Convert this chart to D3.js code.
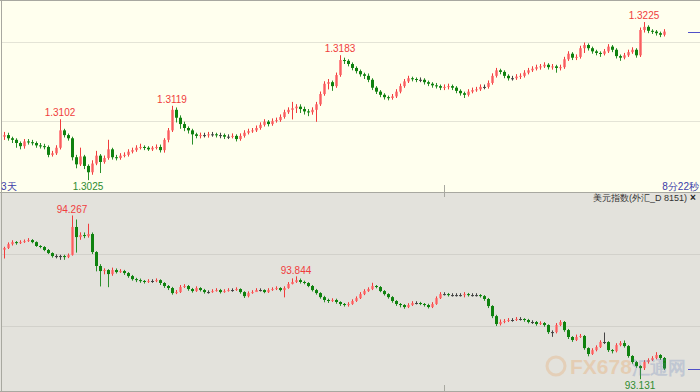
<!DOCTYPE html>
<meta charset="utf-8">
<script src="https://d3js.org/d3.v7.min.js"></script>
<style>
    body { margin: 0; overflow: hidden; background: #fff; }
    text { font-family: "Liberation Sans", Arial, sans-serif; }
</style>
<div id="chart"></div>

<script>

    // top panel: daily candles
    const eurOpen = [
        1.3080,1.3082,1.3078,1.3076,1.3072,1.3068,1.3074,1.3073,1.3072,1.3069,
        1.3068,1.3067,1.3057,1.3059,1.3066,1.3088,1.3082,1.3078,1.3054,1.3045,
        1.3055,1.3043,1.3035,1.3046,1.3056,1.3048,1.3053,1.3064,1.3054,1.3053,
        1.3056,1.3057,1.3061,1.3063,1.3066,1.3067,1.3066,1.3064,1.3066,1.3067,
        1.3063,1.3076,1.3088,1.3114,1.3104,1.3096,1.3091,1.3088,1.3083,1.3081,
        1.3082,1.3082,1.3083,1.3083,1.3082,1.3082,1.3080,1.3080,1.3081,1.3077,
        1.3081,1.3085,1.3087,1.3088,1.3091,1.3095,1.3099,1.3096,1.3100,1.3101,
        1.3105,1.3111,1.3114,1.3116,1.3118,1.3115,1.3112,1.3111,1.3114,1.3121,
        1.3134,1.3147,1.3149,1.3144,1.3158,1.3177,1.3176,1.3172,1.3167,1.3163,
        1.3159,1.3157,1.3152,1.3142,1.3137,1.3133,1.3130,1.3129,1.3131,1.3137,
        1.3144,1.3150,1.3154,1.3153,1.3152,1.3152,1.3149,1.3147,1.3145,1.3144,
        1.3142,1.3143,1.3144,1.3142,1.3138,1.3135,1.3133,1.3137,1.3139,1.3140,
        1.3143,1.3143,1.3148,1.3157,1.3164,1.3162,1.3157,1.3154,1.3154,1.3156,
        1.3157,1.3161,1.3164,1.3166,1.3168,1.3169,1.3171,1.3168,1.3169,1.3167,
        1.3168,1.3178,1.3185,1.3180,1.3181,1.3192,1.3196,1.3192,1.3188,1.3186,
        1.3185,1.3188,1.3194,1.3190,1.3182,1.3180,1.3183,1.3187,1.3190,1.3183,
        1.3215,1.3219,1.3214,1.3213,1.3211,1.3209
    ];
    const eurClose = [
        1.3082,1.3078,1.3076,1.3072,1.3068,1.3074,1.3073,1.3072,1.3069,1.3068,
        1.3067,1.3057,1.3059,1.3066,1.3088,1.3082,1.3078,1.3054,1.3045,1.3055,
        1.3043,1.3035,1.3046,1.3056,1.3048,1.3053,1.3064,1.3054,1.3053,1.3056,
        1.3057,1.3061,1.3063,1.3066,1.3067,1.3066,1.3064,1.3066,1.3067,1.3063,
        1.3076,1.3088,1.3114,1.3104,1.3096,1.3091,1.3088,1.3083,1.3081,1.3082,
        1.3082,1.3083,1.3083,1.3082,1.3082,1.3080,1.3080,1.3081,1.3077,1.3081,
        1.3085,1.3087,1.3088,1.3091,1.3095,1.3099,1.3096,1.3100,1.3101,1.3105,
        1.3111,1.3114,1.3116,1.3118,1.3115,1.3112,1.3111,1.3114,1.3121,1.3134,
        1.3147,1.3149,1.3144,1.3158,1.3177,1.3176,1.3172,1.3167,1.3163,1.3159,
        1.3157,1.3152,1.3142,1.3137,1.3133,1.3130,1.3129,1.3131,1.3137,1.3144,
        1.3150,1.3154,1.3153,1.3152,1.3152,1.3149,1.3147,1.3145,1.3144,1.3142,
        1.3143,1.3144,1.3142,1.3138,1.3135,1.3133,1.3137,1.3139,1.3140,1.3143,
        1.3143,1.3148,1.3157,1.3164,1.3162,1.3157,1.3154,1.3154,1.3156,1.3157,
        1.3161,1.3164,1.3166,1.3168,1.3169,1.3171,1.3168,1.3169,1.3167,1.3168,
        1.3178,1.3185,1.3180,1.3181,1.3192,1.3196,1.3192,1.3188,1.3186,1.3185,
        1.3188,1.3194,1.3190,1.3182,1.3180,1.3183,1.3187,1.3190,1.3183,1.3215,
        1.3219,1.3214,1.3213,1.3211,1.3209,1.3213
    ];
    const eurHigh = [
        1.3086,1.3085,1.3080,1.3078,1.3074,1.3077,1.3077,1.3076,1.3074,1.3072,
        1.3071,1.3069,1.3062,1.3069,1.3102,1.3090,1.3084,1.3080,1.3057,1.3066,
        1.3057,1.3045,1.3050,1.3062,1.3058,1.3056,1.3076,1.3066,1.3057,1.3059,
        1.3060,1.3064,1.3066,1.3069,1.3071,1.3069,1.3068,1.3068,1.3070,1.3070,
        1.3078,1.3091,1.3119,1.3117,1.3107,1.3099,1.3093,1.3090,1.3085,1.3085,
        1.3085,1.3086,1.3086,1.3085,1.3085,1.3084,1.3083,1.3084,1.3083,1.3084,
        1.3088,1.3090,1.3091,1.3094,1.3098,1.3102,1.3101,1.3103,1.3104,1.3108,
        1.3114,1.3117,1.3124,1.3121,1.3121,1.3118,1.3115,1.3117,1.3124,1.3137,
        1.3150,1.3153,1.3151,1.3161,1.3183,1.3180,1.3178,1.3174,1.3169,1.3165,
        1.3161,1.3160,1.3154,1.3144,1.3139,1.3135,1.3132,1.3134,1.3140,1.3147,
        1.3153,1.3157,1.3156,1.3155,1.3155,1.3154,1.3151,1.3149,1.3148,1.3146,
        1.3146,1.3147,1.3146,1.3144,1.3140,1.3137,1.3140,1.3142,1.3143,1.3146,
        1.3146,1.3151,1.3160,1.3167,1.3166,1.3164,1.3159,1.3157,1.3159,1.3160,
        1.3164,1.3167,1.3169,1.3171,1.3172,1.3174,1.3173,1.3172,1.3171,1.3171,
        1.3181,1.3188,1.3187,1.3184,1.3195,1.3199,1.3198,1.3194,1.3190,1.3188,
        1.3191,1.3197,1.3196,1.3192,1.3184,1.3186,1.3190,1.3193,1.3192,1.3218,
        1.3225,1.3221,1.3216,1.3215,1.3213,1.3216
    ];
    const eurLow = [
        1.3076,1.3075,1.3072,1.3066,1.3064,1.3065,1.3070,1.3069,1.3066,1.3065,
        1.3064,1.3054,1.3055,1.3057,1.3064,1.3079,1.3075,1.3050,1.3040,1.3043,
        1.3039,1.3025,1.3032,1.3044,1.3034,1.3046,1.3051,1.3051,1.3050,1.3051,
        1.3054,1.3055,1.3059,1.3061,1.3064,1.3063,1.3062,1.3062,1.3064,1.3060,
        1.3060,1.3073,1.3086,1.3098,1.3090,1.3087,1.3084,1.3070,1.3078,1.3078,
        1.3079,1.3079,1.3080,1.3079,1.3078,1.3077,1.3077,1.3078,1.3074,1.3075,
        1.3079,1.3083,1.3085,1.3086,1.3089,1.3093,1.3093,1.3094,1.3098,1.3099,
        1.3103,1.3109,1.3102,1.3110,1.3110,1.3108,1.3106,1.3108,1.3099,1.3119,
        1.3132,1.3140,1.3138,1.3142,1.3156,1.3172,1.3169,1.3164,1.3160,1.3156,
        1.3153,1.3149,1.3139,1.3134,1.3130,1.3127,1.3126,1.3127,1.3129,1.3135,
        1.3142,1.3148,1.3150,1.3149,1.3149,1.3146,1.3144,1.3142,1.3141,1.3139,
        1.3139,1.3140,1.3139,1.3135,1.3132,1.3129,1.3131,1.3135,1.3137,1.3138,
        1.3140,1.3141,1.3146,1.3155,1.3159,1.3154,1.3151,1.3151,1.3152,1.3153,
        1.3155,1.3159,1.3162,1.3164,1.3165,1.3167,1.3165,1.3165,1.3161,1.3164,
        1.3166,1.3176,1.3177,1.3177,1.3179,1.3186,1.3189,1.3185,1.3183,1.3181,
        1.3183,1.3186,1.3187,1.3179,1.3176,1.3178,1.3181,1.3185,1.3180,1.3181,
        1.3212,1.3211,1.3210,1.3208,1.3206,1.3207
    ];
    const eurPeaks = [14, 42, 84, 160];
    const eurTroughs = [21];
    const eurGrid = [1.31, 1.32];

    // bottom panel: 美元指数
    const usdOpen = [
        94.030,94.042,94.069,94.083,94.076,94.083,94.090,94.097,94.083,94.056,
        94.049,94.028,94.007,93.986,93.986,93.986,93.979,93.993,94.188,94.118,
        94.132,94.125,94.139,94.014,93.917,93.882,93.889,93.861,93.889,93.875,
        93.882,93.868,93.847,93.826,93.819,93.813,93.806,93.813,93.813,93.819,
        93.799,93.778,93.764,93.729,93.736,93.771,93.778,93.757,93.743,93.764,
        93.750,93.736,93.736,93.743,93.750,93.736,93.743,93.750,93.750,93.757,
        93.736,93.708,93.729,93.736,93.750,93.750,93.736,93.750,93.757,93.764,
        93.750,93.764,93.792,93.806,93.819,93.806,93.799,93.778,93.750,93.729,
        93.701,93.681,93.674,93.681,93.667,93.653,93.646,93.653,93.674,93.694,
        93.722,93.743,93.757,93.778,93.771,93.743,93.722,93.701,93.674,93.653,
        93.646,93.632,93.646,93.660,93.660,93.653,93.646,93.632,93.653,93.694,
        93.722,93.722,93.715,93.715,93.715,93.715,93.722,93.715,93.715,93.715,
        93.708,93.688,93.639,93.569,93.514,93.528,93.535,93.542,93.542,93.549,
        93.549,93.542,93.528,93.528,93.514,93.521,93.507,93.458,93.458,93.507,
        93.528,93.472,93.424,93.403,93.424,93.431,93.347,93.306,93.333,93.354,
        93.389,93.389,93.333,93.326,93.368,93.382,93.361,93.292,93.250,93.222,
        93.208,93.250,93.264,93.278,93.299,93.278
    ];
    const usdClose = [
        94.042,94.069,94.083,94.076,94.083,94.090,94.097,94.083,94.056,94.049,
        94.028,94.007,93.986,93.986,93.986,93.979,93.993,94.188,94.118,94.132,
        94.125,94.139,94.014,93.917,93.882,93.889,93.861,93.889,93.875,93.882,
        93.868,93.847,93.826,93.819,93.813,93.806,93.813,93.813,93.819,93.799,
        93.778,93.764,93.729,93.736,93.771,93.778,93.757,93.743,93.764,93.750,
        93.736,93.736,93.743,93.750,93.736,93.743,93.750,93.750,93.757,93.736,
        93.708,93.729,93.736,93.750,93.750,93.736,93.750,93.757,93.764,93.750,
        93.764,93.792,93.806,93.819,93.806,93.799,93.778,93.750,93.729,93.701,
        93.681,93.674,93.681,93.667,93.653,93.646,93.653,93.674,93.694,93.722,
        93.743,93.757,93.778,93.771,93.743,93.722,93.701,93.674,93.653,93.646,
        93.632,93.646,93.660,93.660,93.653,93.646,93.632,93.653,93.694,93.722,
        93.722,93.715,93.715,93.715,93.715,93.722,93.715,93.715,93.715,93.708,
        93.688,93.639,93.569,93.514,93.528,93.535,93.542,93.542,93.549,93.549,
        93.542,93.528,93.528,93.514,93.521,93.507,93.458,93.458,93.507,93.528,
        93.472,93.424,93.403,93.424,93.431,93.347,93.306,93.333,93.354,93.389,
        93.389,93.333,93.326,93.368,93.382,93.361,93.292,93.250,93.222,93.208,
        93.250,93.264,93.278,93.299,93.278,93.205
    ];
    const usdHigh = [
        94.050,94.080,94.095,94.090,94.095,94.100,94.110,94.104,94.088,94.062,
        94.055,94.035,94.012,93.998,93.995,93.995,94.003,94.267,94.240,94.150,
        94.150,94.210,94.150,94.020,93.930,93.900,93.895,93.905,93.900,93.895,
        93.890,93.875,93.855,93.835,93.830,93.820,93.825,93.825,93.830,93.825,
        93.805,93.785,93.772,93.750,93.785,93.790,93.785,93.765,93.775,93.770,
        93.758,93.748,93.755,93.762,93.758,93.755,93.762,93.762,93.768,93.762,
        93.742,93.740,93.748,93.762,93.762,93.755,93.762,93.768,93.775,93.770,
        93.775,93.805,93.830,93.844,93.830,93.815,93.805,93.785,93.758,93.735,
        93.710,93.690,93.692,93.690,93.672,93.660,93.665,93.685,93.705,93.735,
        93.755,93.768,93.800,93.785,93.778,93.750,93.728,93.708,93.680,93.660,
        93.652,93.658,93.672,93.672,93.668,93.660,93.655,93.665,93.705,93.735,
        93.735,93.730,93.728,93.728,93.728,93.735,93.730,93.728,93.728,93.722,
        93.715,93.695,93.645,93.578,93.545,93.548,93.555,93.555,93.562,93.562,
        93.555,93.550,93.540,93.535,93.532,93.528,93.512,93.470,93.520,93.540,
        93.535,93.480,93.430,93.440,93.445,93.438,93.352,93.345,93.365,93.400,
        93.455,93.395,93.340,93.380,93.395,93.400,93.368,93.298,93.258,93.228,
        93.262,93.275,93.290,93.318,93.305,93.285
    ];
    const usdLow = [
        93.970,94.035,94.060,94.065,94.070,94.078,94.085,94.075,94.050,94.040,
        94.020,94.000,93.975,93.970,93.960,93.960,93.972,93.990,94.010,94.100,
        94.110,94.115,94.000,93.880,93.775,93.860,93.770,93.850,93.865,93.870,
        93.855,93.835,93.815,93.805,93.800,93.795,93.800,93.800,93.805,93.785,
        93.765,93.750,93.718,93.722,93.730,93.765,93.745,93.732,93.738,93.740,
        93.725,93.725,93.732,93.740,93.726,93.732,93.740,93.738,93.745,93.725,
        93.695,93.700,93.725,93.740,93.740,93.728,93.730,93.745,93.750,93.740,
        93.700,93.760,93.790,93.800,93.795,93.790,93.770,93.740,93.718,93.690,
        93.665,93.660,93.668,93.655,93.640,93.635,93.636,93.648,93.668,93.688,
        93.715,93.738,93.750,93.762,93.735,93.712,93.690,93.662,93.640,93.630,
        93.620,93.625,93.640,93.650,93.645,93.635,93.622,93.625,93.648,93.688,
        93.712,93.705,93.705,93.705,93.705,93.700,93.705,93.705,93.705,93.698,
        93.675,93.625,93.555,93.500,93.505,93.520,93.528,93.530,93.535,93.538,
        93.530,93.518,93.515,93.502,93.508,93.495,93.445,93.425,93.450,93.500,
        93.460,93.410,93.390,93.396,93.418,93.335,93.290,93.300,93.325,93.348,
        93.375,93.320,93.310,93.318,93.360,93.350,93.280,93.238,93.210,93.131,
        93.195,93.240,93.258,93.270,93.265,93.195
    ];
    const usdPeaks = [17, 73];
    const usdTroughs = [159];
    const usdGrid = [93.5, 94.0];

    const width = 700, height = 392;
    const upColor = "#ff8a8a", upWick = "#f03c3c";
    const downColor = "#0f820f", downWick = "#2a8f2a";
    const flatColor = "#444";

    const svg = d3.select("#chart")
        .append("svg")
        .attr("width", width)
        .attr("height", height);

    const n = eurClose.length;
    const x = d3.scaleLinear()
        .domain([0, n - 1])
        .range([4, 664]);

    function drawPanel(cfg) {
        const g = svg.append("g");
        const y = d3.scaleLinear()
            .domain(cfg.domain)
            .range([cfg.bottom, cfg.top]);

        g.append("rect")
            .attr("x", 0).attr("y", cfg.top)
            .attr("width", width).attr("height", cfg.bottom - cfg.top)
            .attr("fill", cfg.bg);

        g.selectAll(".grid")
            .data(cfg.grid)
            .join("line")
            .attr("x1", 2).attr("x2", width)
            .attr("y1", d => Math.round(y(d)) + 0.5)
            .attr("y2", d => Math.round(y(d)) + 0.5)
            .attr("stroke", cfg.gridColor);

        const data = cfg.close.map((c, i) => ({
            i, o: cfg.open[i], h: cfg.high[i], l: cfg.low[i], c
        }));
        const colorOf = d => d.c > d.o ? upColor : (d.c < d.o ? downColor : flatColor);
        const wickOf = d => d.c > d.o ? upWick : (d.c < d.o ? downWick : flatColor);

        const candle = g.append("g")
            .selectAll("g")
            .data(data)
            .join("g");

        candle.append("line")
            .attr("x1", d => Math.round(x(d.i)) + 0.5)
            .attr("x2", d => Math.round(x(d.i)) + 0.5)
            .attr("y1", d => y(d.h))
            .attr("y2", d => y(d.l))
            .attr("stroke", wickOf);

        candle.append("rect")
            .attr("x", d => Math.round(x(d.i)) - 1)
            .attr("width", 3)
            .attr("y", d => y(Math.max(d.o, d.c)))
            .attr("height", d => Math.max(1, Math.abs(y(d.o) - y(d.c))))
            .attr("fill", colorOf);

        // wick drawn again over the red bodies, like the original
        candle.filter(d => d.c > d.o)
            .append("line")
            .attr("x1", d => Math.round(x(d.i)) + 0.5)
            .attr("x2", d => Math.round(x(d.i)) + 0.5)
            .attr("y1", d => y(d.h))
            .attr("y2", d => y(d.l))
            .attr("stroke", upWick)
            .attr("stroke-opacity", 0.55);

        // high / low marks
        g.selectAll(".peak")
            .data(cfg.peaks)
            .join("text")
            .attr("x", i => x(i))
            .attr("y", i => y(cfg.high[i]) - 3)
            .attr("text-anchor", "middle")
            .attr("font-size", 10)
            .attr("fill", "#f03c3c")
            .text(i => cfg.high[i].toFixed(cfg.digits));

        g.selectAll(".trough")
            .data(cfg.troughs)
            .join("text")
            .attr("x", i => x(i))
            .attr("y", i => y(cfg.low[i]) + 10)
            .attr("text-anchor", "middle")
            .attr("font-size", 10)
            .attr("fill", "#2e8b2e")
            .text(i => cfg.low[i].toFixed(cfg.digits));

        // last price marker
        const last = cfg.close[cfg.close.length - 1];
        g.append("line")
            .attr("x1", 688).attr("x2", width)
            .attr("y1", Math.round(y(last)) + 0.5)
            .attr("y2", Math.round(y(last)) + 0.5)
            .attr("stroke", "#5050c8");

        return g;
    }

    // faint watermark (drawn under the bottom candles)
    function watermark() {
        const wm = svg.append("g").attr("opacity", 0.25);
        wm.append("circle")
            .attr("cx", 556).attr("cy", 366).attr("r", 9)
            .attr("fill", "none").attr("stroke", "#e89a50").attr("stroke-width", 3);
        wm.append("text")
            .attr("x", 570).attr("y", 374)
            .attr("font-size", 21).attr("font-weight", "bold")
            .attr("fill", "#e8903c")
            .text("FX678");
        wm.append("text")
            .attr("x", 632).attr("y", 374)
            .attr("font-size", 18).attr("font-weight", "bold")
            .attr("font-family", "'Noto Sans CJK SC', sans-serif")
            .attr("fill", "#5a78b8")
            .text("汇通网");
    }

    const topPanel = drawPanel({
        top: 0, bottom: 192, domain: [1.3010, 1.3253],
        bg: "#ffffee", gridColor: "#e4e4d6",
        open: eurOpen, high: eurHigh, low: eurLow, close: eurClose,
        peaks: eurPeaks, troughs: eurTroughs, grid: eurGrid, digits: 4
    });

    const bottomPanel = drawPanel({
        top: 193, bottom: 392, domain: [93.042, 94.424],
        bg: "#e3e2dc", gridColor: "#d2d1cb",
        open: usdOpen, high: usdHigh, low: usdLow, close: usdClose,
        peaks: usdPeaks, troughs: usdTroughs, grid: usdGrid, digits: 3
    });

    watermark();

    // frame lines
    const frame = svg.append("g").attr("stroke", "#a8a8a0").attr("fill", "none");
    frame.append("line").attr("x1", 0).attr("x2", width).attr("y1", 0.5).attr("y2", 0.5);
    frame.append("line").attr("x1", 0).attr("x2", width).attr("y1", 192.5).attr("y2", 192.5);
    frame.append("line").attr("x1", 0).attr("x2", width).attr("y1", 391.5).attr("y2", 391.5);
    frame.append("line").attr("x1", 1.5).attr("x2", 1.5).attr("y1", 0).attr("y2", height);

    // time separator ticks
    frame.append("line").attr("x1", 444.5).attr("x2", 444.5).attr("y1", 185).attr("y2", 197);
    frame.append("line").attr("x1", 444.5).attr("x2", 444.5).attr("y1", 385).attr("y2", 392);

    // captions
    svg.append("text")
        .attr("x", 1).attr("y", 190)
        .attr("font-size", 10)
        .attr("font-family", "'Noto Sans CJK SC', sans-serif")
        .attr("fill", "#3a3aa8")
        .text("3天");

    svg.append("text")
        .attr("x", 699).attr("y", 190)
        .attr("text-anchor", "end")
        .attr("font-size", 10)
        .attr("font-family", "'Noto Sans CJK SC', sans-serif")
        .attr("fill", "#3a3aa8")
        .text("8分22秒");

    svg.append("text")
        .attr("x", 687).attr("y", 201)
        .attr("text-anchor", "end")
        .attr("font-size", 9)
        .attr("font-family", "'Noto Sans CJK SC', sans-serif")
        .attr("fill", "#333")
        .text("美元指数(外汇_D 8151)");

    svg.append("text")
        .attr("x", 693).attr("y", 201)
        .attr("text-anchor", "middle")
        .attr("font-size", 10)
        .attr("font-weight", "bold")
        .attr("fill", "#222")
        .text("×");

</script>
